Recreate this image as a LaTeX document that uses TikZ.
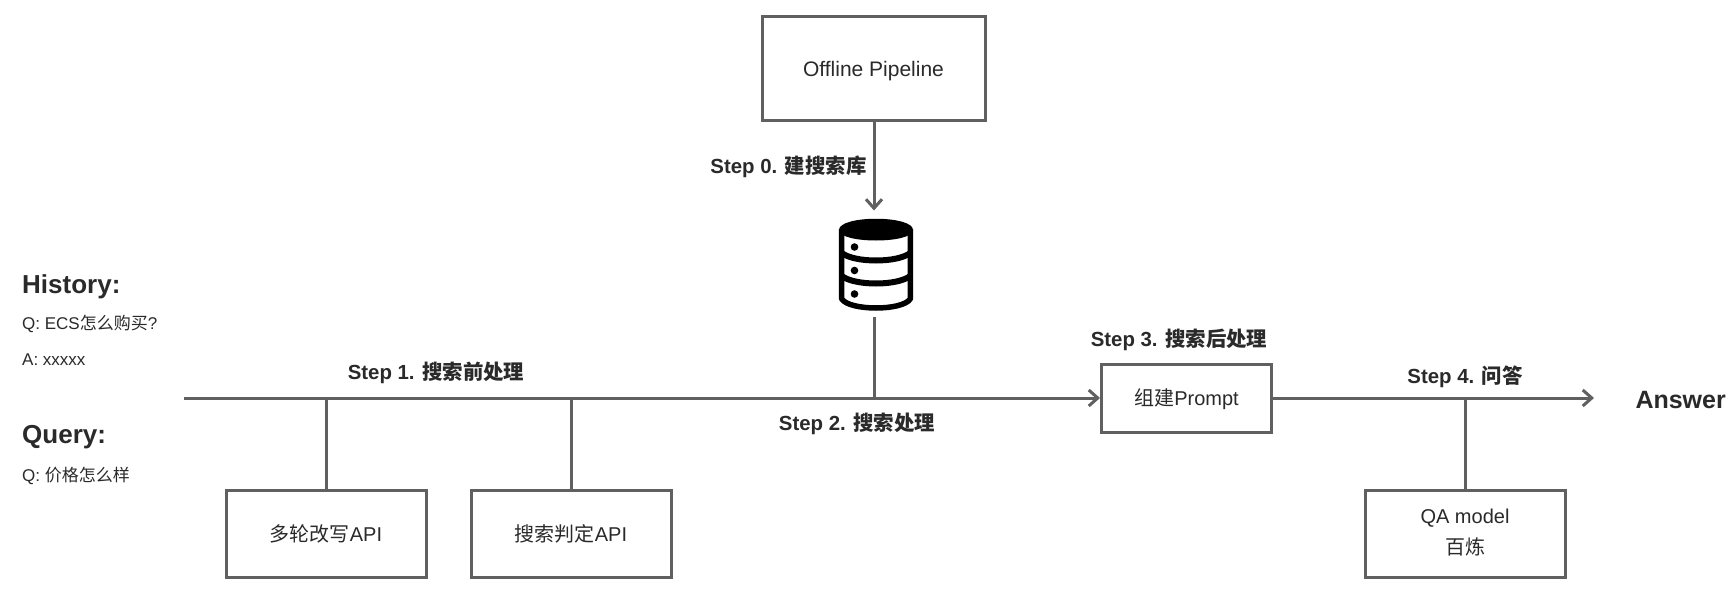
\documentclass[tikz,border=0pt]{standalone}
\usepackage{fontspec}
\usetikzlibrary{arrows.meta}
\setmainfont{Liberation Sans}
\newfontfamily\cjkfont{Noto Sans CJK SC}
\newcommand{\zh}[1]{{\cjkfont #1}}
\newcommand{\fs}[1]{\fontsize{#1}{#1}\selectfont}
\definecolor{wire}{HTML}{606060}
\definecolor{ink}{HTML}{2A2A2A}
\tikzset{
  wireline/.style={draw=wire,line width=3pt},
  flow/.style={wireline,-{Straight Barb[length=9pt,width=16pt,line width=3pt]}},
  box/.style={draw=wire,line width=3pt,fill=white,text=ink,align=center,inner sep=0pt,font=\fs{20}},
  steplabel/.style={text=ink,inner sep=0pt,font=\fs{20.4}\bfseries},
  heading/.style={text=ink,inner sep=0pt,anchor=west,font=\fs{26}\bfseries},
  note/.style={text=ink,inner sep=0pt,anchor=west,font=\fs{17}},
}
\begin{document}
\begin{tikzpicture}[x=1pt,y=-1pt]
\useasboundingbox[fill=white] (0,0) rectangle (1734,594);

% Processing boxes
\node[box,minimum width=223pt,minimum height=103pt] (offline) at (873.5,68.5) {\raisebox{-7.5pt}[0pt][0pt]{\fs{21}Offline Pipeline}};
\node[box,minimum width=200pt,minimum height=87pt] (rewrite) at (326,534) {\zh{多轮改写}API};
\node[box,minimum width=200pt,minimum height=87pt] (judge) at (571,534) {\zh{搜索判定}API};
\node[box,minimum width=170pt,minimum height=68pt] (prompt) at (1186.5,398) {\raisebox{-7pt}[0pt][0pt]{\zh{组建}Prompt}};
\node[box,minimum width=200pt,minimum height=87pt] (qa) at (1465,534) {QA model\\[9pt]\zh{百炼}\rule[-4.5pt]{0pt}{4.5pt}};

% Database symbol
\node[minimum width=74pt,minimum height=90pt,inner sep=0pt] (db) at (876,265) {};
\fill[black] (839,230) .. controls (839,215) and (913,215) .. (913,230)
  .. controls (913,244) and (839,244) .. (839,230) -- cycle;
\draw[black,line width=5.5pt,line join=round]
  (841.7,229) -- (841.7,299) .. controls (850,311) and (902,311) .. (910.3,299) -- (910.3,229);
\draw[black,line width=6pt] (841.7,253) .. controls (855,263) and (897,263) .. (910.3,253);
\draw[black,line width=6pt] (841.7,276) .. controls (855,286) and (897,286) .. (910.3,276);
\fill[black] (854.5,247) circle (3.8) (854.5,270.5) circle (3.8) (854.5,294) circle (3.8);

% Main flow line and its junctions
\coordinate (start) at (184,398);
\coordinate (end) at (1594,398);
\coordinate (j1) at (rewrite.north |- start);
\coordinate (j2) at (judge.north |- start);
\coordinate (j3) at (874,398);
\coordinate (j4) at (qa.north |- start);
\coordinate (dbin) at (874,210.5);
\coordinate (dbout) at (874,317);

\draw[flow] (start) -- (prompt.west);
\draw[flow] (prompt.east) -- (end);
\draw[flow] (offline.south -| dbin) -- (dbin);
\draw[wireline] (dbout) -- (j3);
\draw[wireline] (j1) -- (rewrite.north);
\draw[wireline] (j2) -- (judge.north);
\draw[wireline] (j4) -- (qa.north);

% Step captions
\node[steplabel] (s0) at (788.5,167) {Step 0. \zh{建搜索库}};
\node[steplabel] (s1) at (436,373) {Step 1. \zh{搜索前处理}};
\node[steplabel] (s2) at (857,424) {Step 2. \zh{搜索处理}};
\node[steplabel] (s3) at (1179,340) {Step 3. \zh{搜索后处理}};
\node[steplabel] (s4) at (1465,377) {Step 4. \zh{问答}};

% Conversation context and final output
\node[heading] (history) at (22,287) {History:};
\node[note] (histq) at (22,324) {Q: ECS\zh{怎么购买}?};
\node[note] (hista) at (22,359.5) {A: xxxxx};
\node[heading] (query) at (22,437) {Query:};
\node[note] (queryq) at (22,475.5) {Q: \zh{价格怎么样}};
\node[heading,anchor=east,font=\fs{25}\bfseries] (answer) at (1726,400) {Answer};
\end{tikzpicture}
\end{document}
